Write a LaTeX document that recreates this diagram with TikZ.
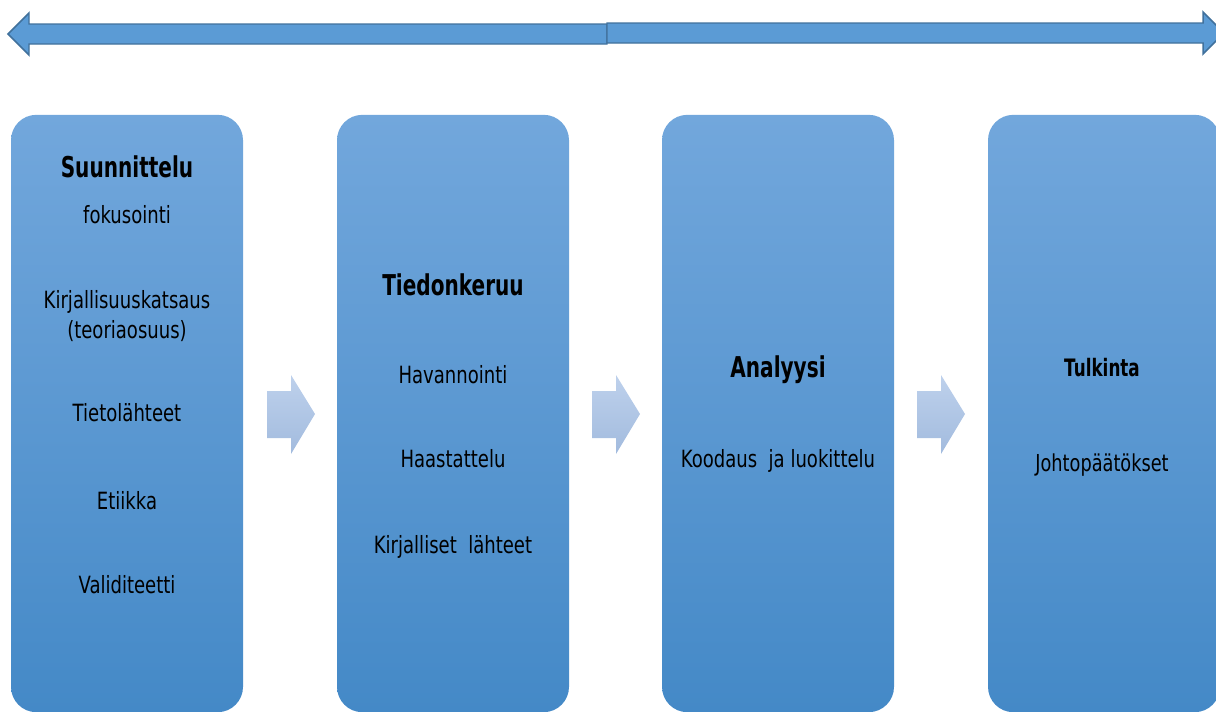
\documentclass[tikz,border=0pt]{standalone}
\usepackage{fontspec}
\setmainfont{DejaVu Sans}[FakeStretch=0.76, BoldFeatures={FakeStretch=0.7}]
\begin{document}
\begin{tikzpicture}[x=0.75pt,y=-0.75pt,
  stage/.style={rectangle, rounded corners=19pt, minimum width=174pt, minimum height=448pt,
    top color={rgb,255:red,114;green,167;blue,220}, bottom color={rgb,255:red,68;green,137;blue,199},
    draw=none, inner sep=0pt},
  bigarrow/.style={fill={rgb,255:red,91;green,155;blue,213}, draw={rgb,255:red,65;green,113;blue,156}, line width=1.1pt, line join=miter},
  flowarrow/.style={top color={rgb,255:red,190;green,209;blue,236}, bottom color={rgb,255:red,162;green,187;blue,222}, draw=none},
  title/.style={font=\bfseries\fontsize{21.5}{25}\selectfont, anchor=center, inner sep=0pt},
  item/.style={font=\fontsize{17.8}{22.5}\selectfont, anchor=center, inner sep=0pt, align=center}
]
\useasboundingbox (0,0) rectangle (1216,711);
\clip (0,0) rectangle (1216,711);
% top double arrow
\draw[bigarrow] (607,24) -- (29,24) -- (29,13) -- (8,34) -- (29,55) -- (29,44) -- (607,44) -- cycle;
\draw[bigarrow] (607,23) -- (1203,23) -- (1203,12) -- (1224,33) -- (1203,54) -- (1203,43) -- (607,43) -- cycle;
% stages
\node[stage] (s1) at (127,413.5) {};
\node[stage] (s2) at (453,413.5) {};
\node[stage] (s3) at (778,413.5) {};
\node[stage] (s4) at (1104,413.5) {};
% flow arrows
\foreach \dx/\n in {0/a1,325/a2,650/a3}{
  \path[flowarrow] (267+\dx,391) -- (291+\dx,391) -- (291+\dx,375) -- (315+\dx,414) -- (291+\dx,454) -- (291+\dx,438) -- (267+\dx,438) -- cycle;
}
% texts
\node[title] (t1) at (127,167) {Suunnittelu};
\node[item] (i11) at (127,215) {fokusointi};
\node[item] (i12) at (127,316) {Kirjallisuuskatsaus\\(teoriaosuus)};
\node[item] (i13) at (127,413) {Tietolähteet};
\node[item] (i14) at (127,501) {Etiikka};
\node[item] (i15) at (127,585) {Validiteetti};
\node[title] (t2) at (453,285) {Tiedonkeruu};
\node[item] (i21) at (453,375) {Havannointi};
\node[item] (i22) at (453,459) {Haastattelu};
\node[item] (i23) at (453,547) {Kirjalliset\ \ lähteet};
\node[title] (t3) at (778,370) {Analyysi};
\node[item] (i31) at (778,461) {Koodaus\ \ ja luokittelu};
\node[title, font=\bfseries\fontsize{18}{22}\selectfont] (t4) at (1102,368) {Tulkinta};
\node[item, font=\fontsize{17.5}{21}\selectfont] (i41) at (1102,465) {Johtopäätökset};
\end{tikzpicture}
\end{document}
